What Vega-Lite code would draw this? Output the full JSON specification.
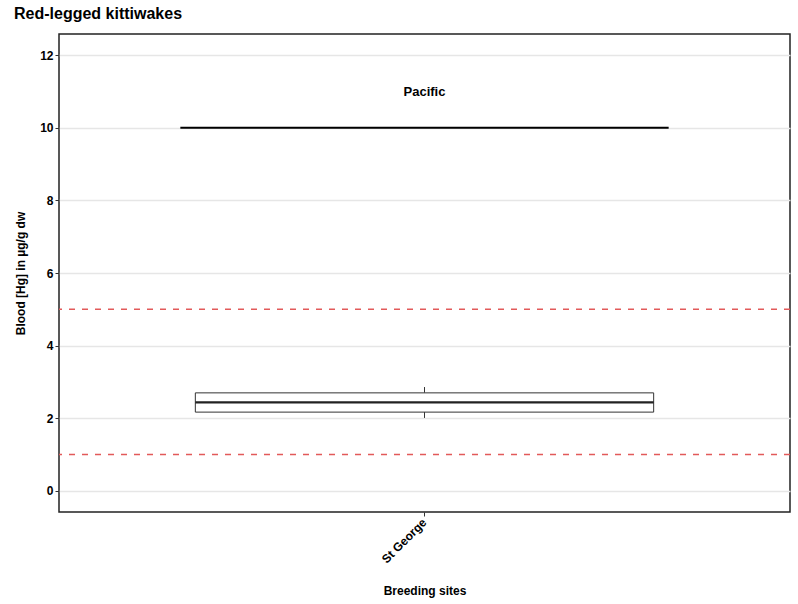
{
  "$schema": "https://vega.github.io/schema/vega-lite/v6.json",
  "width": 731,
  "height": 478,
  "autosize": {"type": "none"},
  "padding": {"left": 59, "top": 34, "right": 8, "bottom": 92},
  "background": "white",
  "title": {
    "text": "Red-legged kittiwakes",
    "anchor": "start",
    "frame": "group",
    "dx": -45,
    "offset": 12,
    "font": "Liberation Sans",
    "fontSize": 16,
    "fontWeight": "bold",
    "color": "black"
  },
  "config": {
    "view": {"stroke": "#222", "strokeWidth": 1.5},
    "axis": {
      "labelFont": "Liberation Sans",
      "titleFont": "Liberation Sans",
      "labelFontWeight": "bold",
      "titleFontWeight": "bold",
      "labelFontSize": 12,
      "titleFontSize": 12,
      "labelColor": "black",
      "titleColor": "black",
      "domain": false,
      "tickColor": "#333",
      "tickSize": 4
    }
  },
  "datasets": {
    "box": [{"site": "St George", "lower": 2.01, "q1": 2.17, "median": 2.44, "q3": 2.7, "upper": 2.86}],
    "region": [{"site": "St George", "region": "Pacific", "line": 10, "labelpos": 10.98}],
    "thresholds": [{"value": 1}, {"value": 5}]
  },
  "encoding": {
    "x": {
      "field": "site",
      "type": "nominal",
      "scale": {"paddingInner": 0, "paddingOuter": 0},
      "axis": {
        "title": "Breeding sites",
        "labelAngle": -45,
        "labelAlign": "right",
        "labelBaseline": "middle",
        "labelPadding": 4,
        "grid": false,
        "titleY": 78,
        "titleBaseline": "middle"
      }
    }
  },
  "layer": [
    {
      "data": {"name": "thresholds"},
      "mark": {"type": "rule", "color": "#e25a5a", "strokeWidth": 1.5, "strokeDash": [6, 7]},
      "encoding": {
        "x": null,
        "y": {
          "field": "value",
          "type": "quantitative",
          "scale": {"domain": [-0.58, 12.58], "nice": false, "zero": false},
          "axis": {
            "title": "Blood [Hg] in µg/g dw",
            "values": [0, 1, 2, 3, 4, 5, 6, 7, 8, 9, 10, 11, 12],
            "labelExpr": "datum.value % 2 === 0 ? datum.label : ''",
            "tickColor": {"condition": {"test": "datum.value % 2 === 0", "value": "#333"}, "value": "transparent"},
            "grid": true,
            "gridColor": {"condition": {"test": "datum.value % 2 === 0", "value": "#e6e6e6"}, "value": "#f3f3f3"},
            "gridWidth": {"condition": {"test": "datum.value % 2 === 0", "value": 1.3}, "value": 0.8},
            "titleX": -39,
            "titleY": 239,
            "titleAngle": -90,
            "titleAlign": "center",
            "titleBaseline": "middle"
          }
        }
      }
    },
    {
      "data": {"name": "box"},
      "mark": {"type": "rule", "color": "#333", "strokeWidth": 1},
      "encoding": {
        "y": {"field": "lower", "type": "quantitative"},
        "y2": {"field": "q1"}
      }
    },
    {
      "data": {"name": "box"},
      "mark": {"type": "rule", "color": "#333", "strokeWidth": 1},
      "encoding": {
        "y": {"field": "q3", "type": "quantitative"},
        "y2": {"field": "upper"}
      }
    },
    {
      "data": {"name": "box"},
      "mark": {"type": "bar", "width": {"band": 0.627}, "fill": "white", "stroke": "#333", "strokeWidth": 1},
      "encoding": {
        "y": {"field": "q1", "type": "quantitative"},
        "y2": {"field": "q3"}
      }
    },
    {
      "data": {"name": "box"},
      "mark": {"type": "bar", "width": {"band": 0.627}, "fill": "transparent", "stroke": "#222", "strokeWidth": 2.2},
      "encoding": {
        "y": {"field": "median", "type": "quantitative"},
        "y2": {"field": "median"}
      }
    },
    {
      "data": {"name": "region"},
      "mark": {"type": "bar", "width": {"band": 0.668}, "fill": "transparent", "stroke": "black", "strokeWidth": 2},
      "encoding": {
        "y": {"field": "line", "type": "quantitative"},
        "y2": {"field": "line"}
      }
    },
    {
      "data": {"name": "region"},
      "mark": {"type": "text", "font": "Liberation Sans", "fontWeight": "bold", "fontSize": 13, "color": "black", "baseline": "middle"},
      "encoding": {
        "y": {"field": "labelpos", "type": "quantitative"},
        "text": {"field": "region"}
      }
    }
  ]
}
